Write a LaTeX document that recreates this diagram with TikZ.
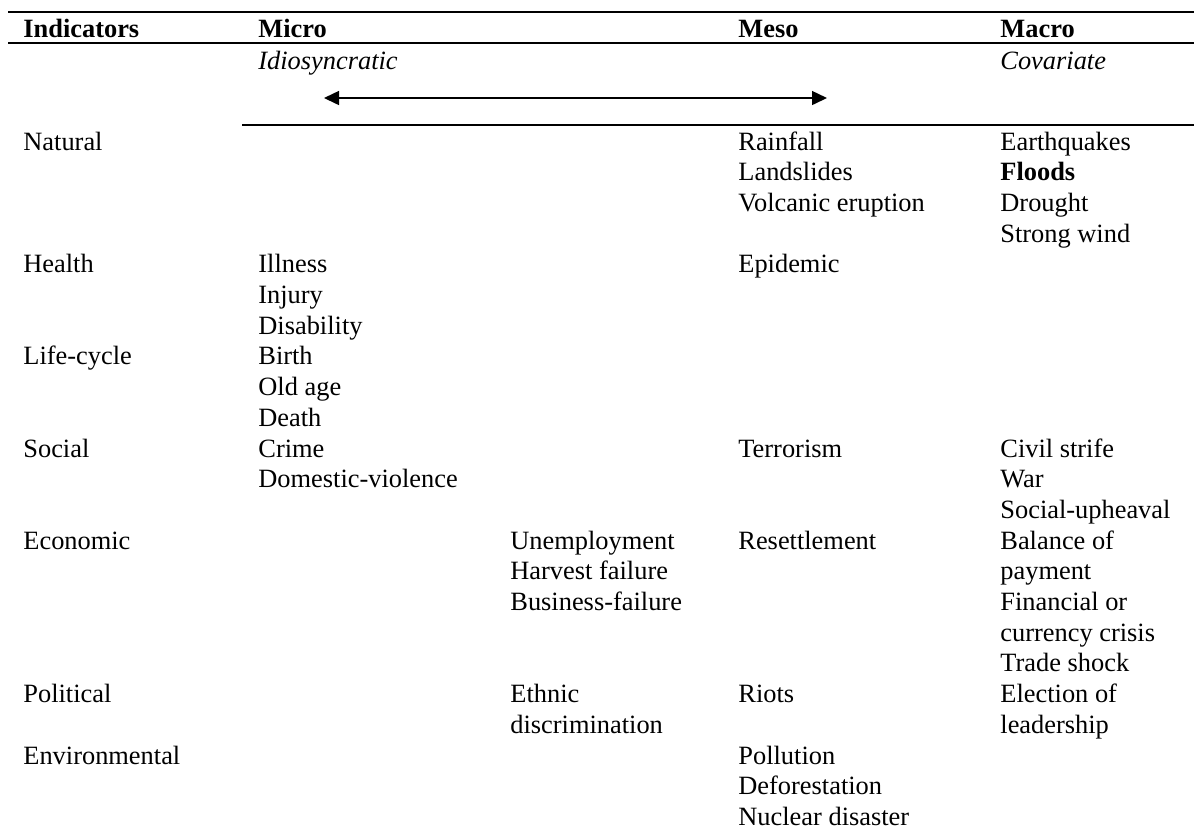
\documentclass[tikz,border=0pt]{standalone}
\usepackage{fontspec}
\setmainfont{Liberation Serif}
\usetikzlibrary{arrows.meta}
\newcommand{\cellbox}[1]{\begin{tabular}[t]{@{}l@{}}#1\end{tabular}}
\tikzset{
  cell/.style={anchor=base west, inner sep=0pt,
    font=\fontsize{13.2}{15.35}\selectfont},
  head/.style={cell, font=\fontsize{13.2}{15.35}\selectfont\bfseries},
  ital/.style={cell, font=\fontsize{13.2}{15.35}\selectfont\itshape},
  rule/.style={line width=1pt},
  tip/.tip={Triangle[length=7.5pt,width=7pt]},
}
\begin{document}
\begin{tikzpicture}[x=0.5pt,y=-0.5pt]
\useasboundingbox (0,0) rectangle (1194,827);
% rules of the table
\draw[rule] (8,12) -- (1194,12);
\draw[rule] (8,43) -- (1194,43);
\draw[rule] (242,125) -- (1194,125);
% header
\node[head] (ind) at (23,37) {Indicators};
\node[head] (mic) at (258,37) {Micro};
\node[head] (mes) at (738,37) {Meso};
\node[head] (mac) at (1000,37) {Macro};
\node[ital] (idi) at (258,69) {Idiosyncratic};
\node[ital] (cov) at (1000,69) {Covariate};
\coordinate (left) at (324,98);
\coordinate (right) at (827,98);
\draw[line width=0.75pt, tip-tip] (left) -- (right);
% natural
\node[cell] (nat) at (23,150) {Natural};
\node[cell] (natmes) at (738,150) {\cellbox{Rainfall\\Landslides\\Volcanic eruption}};
\node[cell] (natmac) at (1000,150) {\cellbox{Earthquakes\\\textbf{Floods}\\Drought\\Strong wind}};
% health
\node[cell] (hea) at (23,272.8) {Health};
\node[cell] (heamic) at (258,272.8) {\cellbox{Illness\\Injury\\Disability}};
\node[cell] (heames) at (738,272.8) {Epidemic};
% life-cycle
\node[cell] (lif) at (23,364.9) {Life-cycle};
\node[cell] (lifmic) at (258,364.9) {\cellbox{Birth\\Old age\\Death}};
% social
\node[cell] (soc) at (23,457) {Social};
\node[cell] (socmic) at (258,457) {\cellbox{Crime\\Domestic-violence}};
\node[cell] (socmes) at (738,457) {Terrorism};
\node[cell] (socmac) at (1000,457) {\cellbox{Civil strife\\War\\Social-upheaval}};
% economic
\node[cell] (eco) at (23,549.1) {Economic};
\node[cell] (ecomid) at (510,549.1) {\cellbox{Unemployment\\Harvest failure\\Business-failure}};
\node[cell] (ecomes) at (738,549.1) {Resettlement};
\node[cell] (ecomac) at (1000,549.1) {\cellbox{Balance of\\payment\\Financial or\\currency crisis\\Trade shock}};
% political
\node[cell] (pol) at (23,702.6) {Political};
\node[cell] (polmid) at (510,702.6) {\cellbox{Ethnic\\discrimination}};
\node[cell] (polmes) at (738,702.6) {Riots};
\node[cell] (polmac) at (1000,702.6) {\cellbox{Election of\\leadership}};
% environmental
\node[cell] (env) at (23,764) {Environmental};
\node[cell] (envmes) at (738,764) {\cellbox{Pollution\\Deforestation\\Nuclear disaster}};
\end{tikzpicture}
\end{document}
